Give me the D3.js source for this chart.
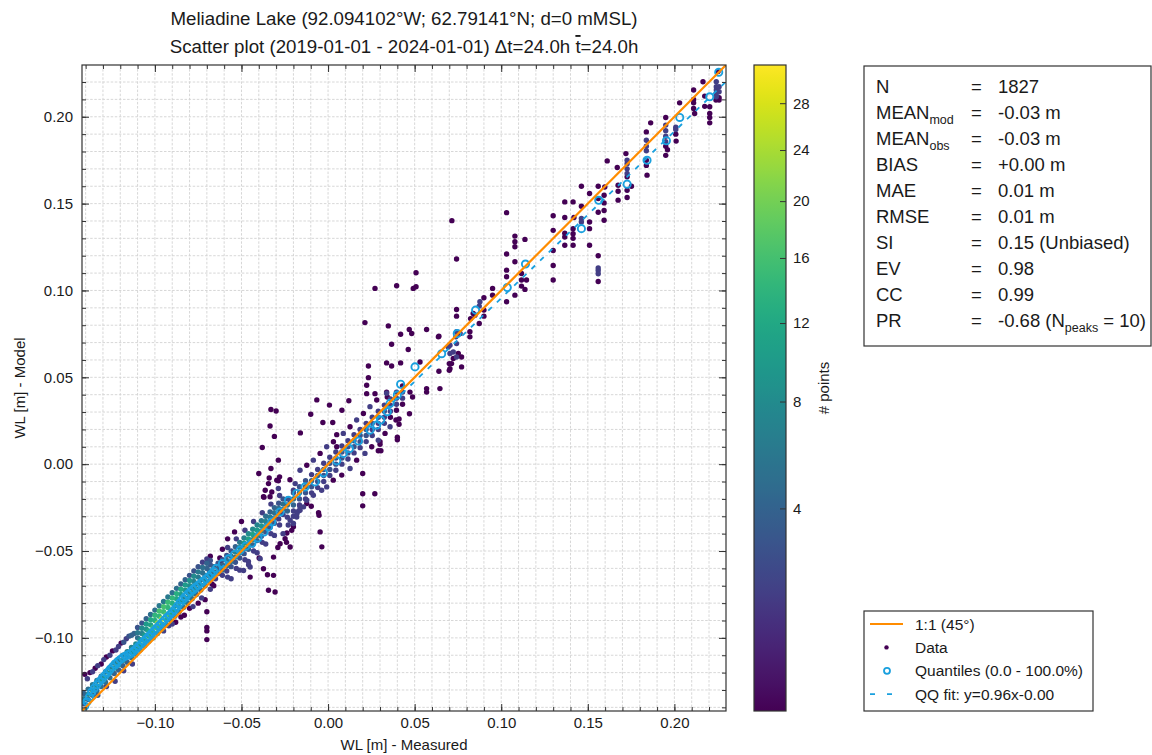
<!DOCTYPE html>
<html><head><meta charset="utf-8">
<script src="https://cdn.jsdelivr.net/npm/d3@7"></script>
<style>
body{margin:0;background:#fff;}
svg{font-family:"Liberation Sans",Arial,Helvetica,sans-serif;}
</style></head><body>
<svg id="chart" width="1152" height="755"></svg>
<script>
// ---------------- DATA ----------------
// [measured, model, count]
const lowMainBand = [
[-0.1410,-0.1380,3],[-0.1410,-0.1350,6],[-0.1410,-0.1320,4],
[-0.1385,-0.1355,4],[-0.1385,-0.1325,8],[-0.1385,-0.1295,5],
[-0.1360,-0.1330,5],[-0.1360,-0.1300,9],[-0.1360,-0.1270,6],
[-0.1335,-0.1305,5],[-0.1335,-0.1275,9],[-0.1335,-0.1245,6],
[-0.1310,-0.1280,5],[-0.1310,-0.1250,10],[-0.1310,-0.1220,6],
[-0.1285,-0.1255,5],[-0.1285,-0.1225,10],[-0.1285,-0.1195,6],
[-0.1260,-0.1230,5],[-0.1260,-0.1200,9],[-0.1260,-0.1170,6],
[-0.1235,-0.1205,4],[-0.1235,-0.1175,9],[-0.1235,-0.1145,6],
[-0.1210,-0.1185,4],[-0.1210,-0.1155,8],[-0.1210,-0.1125,6],
[-0.1185,-0.1160,4],[-0.1185,-0.1130,8],[-0.1185,-0.1100,6],
[-0.1160,-0.1140,4],[-0.1160,-0.1110,8],[-0.1160,-0.1080,7],
[-0.1135,-0.1115,5],[-0.1135,-0.1085,9],[-0.1135,-0.1055,7],
[-0.1110,-0.1095,5],[-0.1110,-0.1065,10],[-0.1110,-0.1035,8],
[-0.1085,-0.1070,6],[-0.1085,-0.1040,11],[-0.1085,-0.1010,9],
[-0.1060,-0.1045,6],[-0.1060,-0.1015,12],[-0.1060,-0.0985,10],
[-0.1035,-0.1020,7],[-0.1035,-0.0990,13],[-0.1035,-0.0960,12],
[-0.1010,-0.1000,7],[-0.1010,-0.0970,14],[-0.1010,-0.0940,16],
[-0.0985,-0.0975,7],[-0.0985,-0.0945,15],[-0.0985,-0.0915,24],
[-0.0960,-0.0950,7],[-0.0960,-0.0920,14],[-0.0960,-0.0890,26],
[-0.0935,-0.0925,6],[-0.0935,-0.0895,13],[-0.0935,-0.0865,18],
[-0.0910,-0.0900,6],[-0.0910,-0.0870,12],[-0.0910,-0.0840,12],
[-0.0885,-0.0875,6],[-0.0885,-0.0845,11],[-0.0885,-0.0815,10],
[-0.0860,-0.0850,5],[-0.0860,-0.0820,10],[-0.0860,-0.0790,8],
[-0.0835,-0.0825,5],[-0.0835,-0.0795,9],[-0.0835,-0.0765,7],
[-0.0810,-0.0800,5],[-0.0810,-0.0770,9],[-0.0810,-0.0740,7],
[-0.0785,-0.0775,5],[-0.0785,-0.0745,8],[-0.0785,-0.0715,6],
[-0.0760,-0.0750,4],[-0.0760,-0.0720,8],[-0.0760,-0.0690,6],
[-0.0735,-0.0725,4],[-0.0735,-0.0695,7],[-0.0735,-0.0665,5],
[-0.0710,-0.0700,4],[-0.0710,-0.0670,7],[-0.0710,-0.0640,5],
[-0.0685,-0.0675,3],[-0.0685,-0.0645,6],[-0.0685,-0.0615,4],
[-0.0660,-0.0650,3],[-0.0660,-0.0620,5],[-0.0660,-0.0590,4],
[-0.0635,-0.0630,2],[-0.0635,-0.0600,4],[-0.0635,-0.0570,3]
];
const upperBand = [
[-0.1405,-0.1210,1],[-0.1390,-0.1235,2],[-0.1375,-0.1200,1],[-0.1360,-0.1195,2],[-0.1345,-0.1175,1],
[-0.1330,-0.1160,2],[-0.1310,-0.1150,1],[-0.1295,-0.1125,2],[-0.1280,-0.1110,1],[-0.1260,-0.1100,2],
[-0.1245,-0.1075,1],[-0.1225,-0.1070,2],[-0.1210,-0.1050,2],[-0.1195,-0.1030,1],[-0.1180,-0.1025,3],
[-0.1165,-0.1005,2],[-0.1150,-0.0990,3],[-0.1135,-0.0985,4],[-0.1120,-0.0975,4],
[-0.1100,-0.1000,5],[-0.1100,-0.0970,6],[-0.1100,-0.0940,3],
[-0.1075,-0.0975,7],[-0.1075,-0.0945,8],[-0.1075,-0.0915,3],
[-0.1050,-0.0950,9],[-0.1050,-0.0920,10],[-0.1050,-0.0890,4],
[-0.1025,-0.0925,11],[-0.1025,-0.0895,12],[-0.1025,-0.0865,5],
[-0.1000,-0.0900,13],[-0.1000,-0.0870,14],[-0.1000,-0.0840,5],
[-0.0975,-0.0875,14],[-0.0975,-0.0845,16],[-0.0975,-0.0815,6],
[-0.0950,-0.0850,15],[-0.0950,-0.0820,16],[-0.0950,-0.0790,6],
[-0.0925,-0.0825,14],[-0.0925,-0.0795,15],[-0.0925,-0.0765,6],
[-0.0900,-0.0800,13],[-0.0900,-0.0770,14],[-0.0900,-0.0740,5],
[-0.0875,-0.0775,12],[-0.0875,-0.0745,13],[-0.0875,-0.0715,5],
[-0.0850,-0.0750,10],[-0.0850,-0.0720,12],[-0.0850,-0.0690,4],
[-0.0825,-0.0725,9],[-0.0825,-0.0695,10],[-0.0825,-0.0665,4],
[-0.0800,-0.0700,8],[-0.0800,-0.0670,9],[-0.0800,-0.0640,3],
[-0.0775,-0.0675,7],[-0.0775,-0.0645,8],[-0.0775,-0.0615,3],
[-0.0750,-0.0650,6],[-0.0750,-0.0620,6],[-0.0750,-0.0590,3],
[-0.0725,-0.0625,5],[-0.0725,-0.0595,5],[-0.0725,-0.0565,2],
[-0.0700,-0.0600,4],[-0.0700,-0.0570,4],[-0.0700,-0.0545,2],
[-0.0680,-0.0580,3],[-0.0680,-0.0555,3],[-0.0680,-0.0530,1]
];
const lowExtras = [
[-0.0800,-0.0830,1],[-0.0780,-0.0820,2],[-0.0750,-0.0800,1],[-0.0730,-0.0770,2],[-0.0710,-0.0780,1],
[-0.0680,-0.0720,2],[-0.0670,-0.0690,1],[-0.0650,-0.0660,2],[-0.0660,-0.0700,1],[-0.0850,-0.0880,1],
[-0.0880,-0.0910,1],[-0.0830,-0.0870,1],[-0.0700,-0.0850,1],[-0.0700,-0.0940,1],[-0.0700,-0.0960,1],
[-0.0700,-0.1010,1],[-0.0920,-0.0930,2],[-0.0900,-0.0920,2],[-0.0950,-0.0960,2],[-0.0620,-0.0570,1],
[-0.0625,-0.0540,1],[-0.0620,-0.0600,1],[-0.1230,-0.1250,2],[-0.1180,-0.1190,2],[-0.1130,-0.1150,2],
[-0.1330,-0.1330,3],[-0.1280,-0.1280,2]
];
const midBand = [
[-0.0610,-0.0640,2],[-0.0610,-0.0610,4],[-0.0610,-0.0580,4],[-0.0610,-0.0550,3],
[-0.0585,-0.0615,2],[-0.0585,-0.0585,4],[-0.0585,-0.0555,5],[-0.0585,-0.0525,3],
[-0.0560,-0.0590,3],[-0.0560,-0.0560,5],[-0.0560,-0.0530,6],[-0.0560,-0.0500,3],
[-0.0535,-0.0565,3],[-0.0535,-0.0535,5],[-0.0535,-0.0505,7],[-0.0535,-0.0475,4],
[-0.0510,-0.0540,3],[-0.0510,-0.0510,6],[-0.0510,-0.0480,9],[-0.0510,-0.0450,6],
[-0.0485,-0.0515,3],[-0.0485,-0.0485,7],[-0.0485,-0.0455,10],[-0.0485,-0.0425,7],
[-0.0460,-0.0490,4],[-0.0460,-0.0460,7],[-0.0460,-0.0430,11],[-0.0460,-0.0400,8],
[-0.0435,-0.0465,4],[-0.0435,-0.0435,7],[-0.0435,-0.0405,11],[-0.0435,-0.0375,8],
[-0.0410,-0.0440,4],[-0.0410,-0.0410,7],[-0.0410,-0.0380,10],[-0.0410,-0.0350,7],
[-0.0385,-0.0415,3],[-0.0385,-0.0385,6],[-0.0385,-0.0355,9],[-0.0385,-0.0325,6],
[-0.0360,-0.0390,3],[-0.0360,-0.0360,5],[-0.0360,-0.0330,7],[-0.0360,-0.0300,5],
[-0.0335,-0.0365,3],[-0.0335,-0.0335,5],[-0.0335,-0.0305,6],[-0.0335,-0.0275,4],
[-0.0310,-0.0340,3],[-0.0310,-0.0310,4],[-0.0310,-0.0280,5],[-0.0310,-0.0250,4],
[-0.0285,-0.0315,2],[-0.0285,-0.0285,4],[-0.0285,-0.0255,5],[-0.0285,-0.0225,3],
[-0.0260,-0.0290,2],[-0.0260,-0.0260,4],[-0.0260,-0.0230,5],[-0.0260,-0.0200,3],
[-0.0580,-0.0650,2],[-0.0530,-0.0600,2],[-0.0480,-0.0550,2],[-0.0430,-0.0500,2],[-0.0380,-0.0450,2],
[-0.0330,-0.0400,2],[-0.0280,-0.0350,2],
[-0.0580,-0.0480,2],[-0.0530,-0.0430,2],[-0.0480,-0.0380,2],[-0.0430,-0.0330,2],[-0.0380,-0.0280,2],
[-0.0330,-0.0230,2],[-0.0280,-0.0180,2],
[-0.0560,-0.0660,2],[-0.0510,-0.0610,2],[-0.0460,-0.0560,2],[-0.0410,-0.0510,2],[-0.0360,-0.0460,2],
[-0.0310,-0.0410,2],[-0.0260,-0.0400,2],[-0.0230,-0.0350,2],[-0.0200,-0.0300,2],[-0.0170,-0.0270,2],
[-0.0240,-0.0450,1],[-0.0290,-0.0480,1]
];
const midScatter = [
[-0.0277,-0.0458,1],[-0.0248,-0.0429,1],[-0.0210,-0.0381,1],[-0.0200,-0.0342,2],[-0.0181,-0.0304,2],
[-0.0162,-0.0265,2],[-0.0142,-0.0246,2],[-0.0123,-0.0227,1],[-0.0219,-0.0477,1],[-0.0315,-0.0535,1],
[-0.0392,-0.0544,2],[-0.0450,-0.0592,2],[-0.0488,-0.0612,2],[-0.0315,-0.0640,1],[-0.0373,-0.0602,1],
[-0.0450,-0.0650,1],[-0.0373,-0.0188,1],[-0.0363,-0.0150,1],[-0.0344,-0.0112,1],[-0.0296,-0.0092,1],
[-0.0325,-0.0160,1],[-0.0287,-0.0140,2],[-0.0200,-0.0150,2],[-0.0190,-0.0112,2],[-0.0219,-0.0208,2],
[-0.0335,-0.0188,1],[-0.0398,-0.0540,1],[-0.0350,-0.0637,1],[-0.0344,-0.0726,1],[-0.0306,-0.0736,1],
[-0.0459,-0.0579,2],[-0.0046,-0.0390,1],[-0.0036,-0.0476,1],[-0.0052,-0.0294,1],[-0.0580,-0.0430,1],
[-0.0540,-0.0390,1],[-0.0610,-0.0490,1],[-0.0500,-0.0330,1],[-0.0097,-0.0242,1],[-0.0055,-0.0280,1]
];
const diagBand = [
[-0.0235,-0.0305,2],[-0.0235,-0.0270,4],[-0.0235,-0.0235,5],[-0.0235,-0.0200,3],
[-0.0200,-0.0270,2],[-0.0200,-0.0235,4],[-0.0200,-0.0200,5],[-0.0200,-0.0165,3],
[-0.0165,-0.0235,2],[-0.0165,-0.0200,3],[-0.0165,-0.0165,5],[-0.0165,-0.0130,3],
[-0.0130,-0.0200,2],[-0.0130,-0.0165,3],[-0.0130,-0.0130,4],[-0.0130,-0.0095,3],
[-0.0095,-0.0165,2],[-0.0095,-0.0130,3],[-0.0095,-0.0095,4],[-0.0095,-0.0060,2],
[-0.0060,-0.0135,2],[-0.0060,-0.0100,3],[-0.0060,-0.0065,4],[-0.0060,-0.0030,2],
[-0.0025,-0.0100,2],[-0.0025,-0.0065,3],[-0.0025,-0.0030,3],[-0.0025,0.0005,2],
[0.0010,-0.0065,2],[0.0010,-0.0030,3],[0.0010,0.0005,3],[0.0010,0.0040,2],
[0.0045,-0.0035,2],[0.0045,0.0000,3],[0.0045,0.0035,3],[0.0045,0.0070,2],
[0.0080,0.0000,2],[0.0080,0.0035,3],[0.0080,0.0070,3],[0.0080,0.0105,2],
[0.0115,0.0030,2],[0.0115,0.0065,3],[0.0115,0.0100,3],[0.0115,0.0135,2],
[0.0150,0.0065,2],[0.0150,0.0100,3],[0.0150,0.0135,3],[0.0150,0.0170,2],
[0.0185,0.0095,2],[0.0185,0.0130,3],[0.0185,0.0165,3],[0.0185,0.0200,2],
[0.0220,0.0130,2],[0.0220,0.0165,3],[0.0220,0.0200,3],[0.0220,0.0235,2],
[0.0255,0.0165,2],[0.0255,0.0200,2],[0.0255,0.0235,3],[0.0255,0.0270,2],
[0.0290,0.0200,2],[0.0290,0.0235,2],[0.0290,0.0270,3],[0.0290,0.0305,2],
[0.0325,0.0235,2],[0.0325,0.0270,2],[0.0325,0.0305,3],[0.0325,0.0340,2],
[0.0360,0.0270,1],[0.0360,0.0305,2],[0.0360,0.0340,2],[0.0360,0.0375,2],
[0.0395,0.0310,1],[0.0395,0.0345,2],[0.0395,0.0380,2],[0.0395,0.0415,2],
[0.0430,0.0345,1],[0.0430,0.0380,2],[0.0430,0.0415,2],[0.0430,0.0450,1]
];
const diagEdges = [
[-0.0219,-0.0323,2],[-0.0200,-0.0360,1],[-0.0238,-0.0396,1],[-0.0180,-0.0285,2],[-0.0162,-0.0246,2],
[-0.0123,-0.0208,2],[-0.0085,-0.0179,2],[-0.0037,-0.0150,2],[-0.0008,-0.0131,2],[0.0030,-0.0092,1],
[0.0079,-0.0063,1],[0.0127,-0.0025,2],[0.0165,0.0023,1],[0.0213,0.0062,2],[0.0252,0.0100,1],
[0.0290,0.0138,2],[0.0329,0.0177,1],[0.0358,0.0215,2],[0.0392,0.0254,1],
[-0.0162,-0.0035,2],[-0.0123,-0.0006,1],[-0.0085,0.0023,2],[-0.0046,0.0062,1],[-0.0008,0.0100,2],
[0.0031,0.0129,1],[0.0088,0.0177,2],[0.0127,0.0215,1],[0.0165,0.0254,2],[0.0204,0.0292,1],
[0.0242,0.0331,2],[0.0281,0.0369,1],[0.0338,0.0408,2]
];
const midOutliers = [
[-0.0330,0.0315,1],[-0.0300,0.0306,1],[-0.0335,0.0220,1],[-0.0310,0.0160,1],[-0.0380,0.0096,1],
[-0.0160,0.0180,1],[-0.0287,0.0023,1],[-0.0330,-0.0025,1],[-0.0400,-0.0054,1],[-0.0340,-0.0080,1],
[-0.0280,-0.0073,1],[-0.0287,-0.0096,1],[-0.0220,-0.0090,1],[-0.0370,-0.0190,1],
[-0.0065,0.0370,1],[0.0008,0.0340,1],[-0.0100,0.0287,1],[-0.0030,0.0240,1],[0.0027,0.0240,1],
[0.0080,0.0310,1],[0.0120,0.0365,1],[0.0050,0.0170,1],[0.0050,0.0100,1],[0.0200,-0.0054,1],
[0.0200,-0.0170,1],[0.0200,-0.0240,1],[0.0270,-0.0170,1],
[0.0300,0.0130,1],[0.0300,0.0115,1],[0.0290,0.0077,1],[0.0305,0.0077,1],[0.0400,0.0155,1],
[0.0400,0.0140,1],[0.0410,0.0230,1],[0.0410,0.0260,1],[0.0470,0.0290,1]
];
const upperMid = [
[0.0715,0.1402,1],[0.0742,0.1181,1],[0.1031,0.1448,1],
[0.0950,0.1012,1],[0.0950,0.0973,1],[0.0900,0.0958,1],[0.0877,0.0935,2],[0.0900,0.0852,1],
[0.0873,0.0810,1],[0.0848,0.0858,1],[0.0823,0.0838,1],[0.0742,0.0890,1],[0.0742,0.0852,1],
[0.0819,0.0762,1],[0.0819,0.0733,1],[0.0762,0.0752,1],[0.0704,0.0685,2],[0.0640,0.0737,1],
[0.0694,0.0675,2],[0.0704,0.0637,2],[0.0713,0.0579,1],[0.0704,0.0550,1],[0.0771,0.0617,1],
[0.0771,0.0560,1],[0.0742,0.0617,2],[0.0723,0.0646,2],[0.0640,0.0535,1],[0.0646,0.0435,1],
[0.0569,0.0435,1],[0.0569,0.0415,1],[0.0473,0.0415,1],[0.0488,0.0387,1],[0.0338,0.0415,1],
[0.0342,0.0387,1],[0.0223,0.0406,1],[0.0271,0.0406,1],[0.0213,0.0815,1],[0.0233,0.0565,1],
[0.0233,0.0498,1],[0.0223,0.0454,1],[0.0271,0.1012,1],[0.0396,0.1027,1],[0.0492,0.1012,1],
[0.0508,0.1021,1],[0.0508,0.1102,1],[0.0348,0.0796,1],[0.0419,0.0748,1],[0.0469,0.0775,1],
[0.0483,0.0752,1],[0.0569,0.0775,1],[0.0367,0.0690,1],[0.0463,0.0660,1],[0.0338,0.0583,1],
[0.0367,0.0565,1],[0.0419,0.0583,1],[0.0531,0.0588,1],
[0.0873,0.0910,2],[0.0900,0.0887,1],[0.0838,0.0867,1],[0.0742,0.0762,2],[0.0738,0.0733,2],
[0.0742,0.0694,2],[0.0723,0.0608,1],[0.0700,0.0579,1],[0.0700,0.0540,1],[0.0752,0.0637,1],
[0.0637,0.0733,1],
[0.1031,0.1210,1],[0.1031,0.1117,1],[0.1031,0.1079,1],[0.1079,0.1165,1],[0.1117,0.1098,1],
[0.1117,0.1060,1],[0.1117,0.1025,1],[0.1137,0.1006,1],[0.1146,0.1060,1],[0.1079,0.0973,1],
[0.1031,0.0935,1],[0.1079,0.1313,1],[0.1079,0.1281,1],[0.1079,0.1252,1],[0.1137,0.1294,1]
];
const upperTop = [
[0.1300,0.1430,1],[0.1300,0.1346,1],[0.1300,0.1230,1],[0.1300,0.1144,1],[0.1300,0.1060,1],
[0.1367,0.1510,1],[0.1367,0.1420,1],[0.1367,0.1330,1],[0.1367,0.1308,1],[0.1367,0.1260,1],
[0.1415,0.1510,1],[0.1415,0.1355,1],[0.1415,0.1327,1],[0.1415,0.1300,1],[0.1415,0.1260,1],[0.1420,0.1420,1],
[0.1463,0.1485,1],[0.1463,0.1414,2],[0.1463,0.1394,2],[0.1463,0.1600,1],
[0.1510,0.1558,1],[0.1510,0.1394,1],[0.1510,0.1356,1],[0.1510,0.1260,1],
[0.1560,0.1600,1],[0.1560,0.1450,1],[0.1560,0.1529,1],[0.1560,0.1200,1],[0.1560,0.1130,2],
[0.1560,0.1115,2],[0.1560,0.1096,2],[0.1560,0.1052,1],
[0.1598,0.1596,1],[0.1594,0.1548,1],[0.1594,0.1504,1],[0.1594,0.1460,1],[0.1594,0.1404,1],
[0.1612,0.1746,1],[0.1670,0.1708,1],[0.1675,0.1606,1],[0.1675,0.1571,1],[0.1675,0.1520,1],
[0.1720,0.1788,1],[0.1727,0.1750,2],[0.1727,0.1730,2],[0.1727,0.1700,2],[0.1727,0.1673,2],
[0.1727,0.1654,1],[0.1727,0.1577,1],[0.1727,0.1535,1],[0.1752,0.1600,1],
[0.1838,0.1913,1],[0.1838,0.1865,2],[0.1838,0.1830,2],[0.1838,0.1804,2],[0.1838,0.1750,1],
[0.1838,0.1720,1],[0.1842,0.1664,1],[0.1863,0.1965,1],
[0.1950,0.1996,1],[0.1950,0.1952,2],[0.1950,0.1920,2],[0.1950,0.1888,2],[0.1950,0.1856,2],
[0.1950,0.1830,1],[0.1960,0.1810,1],[0.1950,0.1778,1],
[0.2008,0.1940,2],[0.2008,0.1927,2],[0.2008,0.1900,1],[0.2010,0.1860,1],[0.2030,0.2080,1],
[0.2111,0.2154,1],[0.2111,0.2100,1],[0.2111,0.2080,1],[0.2111,0.2048,1],[0.2117,0.2019,1],
[0.2165,0.2202,1],[0.2175,0.2119,1],[0.2175,0.2060,1],
[0.2204,0.2058,1],[0.2204,0.2019,1],[0.2204,0.1996,1],[0.2204,0.1965,1],
[0.2242,0.2202,2],[0.2242,0.2173,2],[0.2242,0.2154,2],[0.2242,0.2135,2],[0.2242,0.2115,2],
[0.2258,0.2173,2],[0.2258,0.2144,2],[0.2258,0.2110,1],[0.2258,0.2096,1],[0.2240,0.2096,1],[0.2252,0.2260,1]
];
// quantile pairs [measured, model]
const quantiles = [
[-0.1405,-0.1392],[-0.1392,-0.1368],[-0.1378,-0.1340],[-0.1365,-0.1312],[-0.1350,-0.1290],[-0.1335,-0.1270],
[-0.1320,-0.1252],[-0.1305,-0.1235],[-0.1290,-0.1218],[-0.1275,-0.1200],[-0.1260,-0.1183],[-0.1245,-0.1167],
[-0.1230,-0.1150],[-0.1215,-0.1137],[-0.1200,-0.1125],[-0.1185,-0.1113],[-0.1170,-0.1105],[-0.1155,-0.1097],
[-0.1140,-0.1090],[-0.1125,-0.1078],[-0.1110,-0.1065],[-0.1095,-0.1050],[-0.1080,-0.1036],[-0.1065,-0.1021],
[-0.1050,-0.1006],[-0.1035,-0.0991],[-0.1020,-0.0976],[-0.1005,-0.0960],[-0.0990,-0.0945],[-0.0975,-0.0929],
[-0.0960,-0.0913],[-0.0945,-0.0897],[-0.0930,-0.0882],[-0.0915,-0.0868],[-0.0900,-0.0854],[-0.0885,-0.0837],
[-0.0870,-0.0818],[-0.0855,-0.0798],[-0.0840,-0.0779],[-0.0825,-0.0763],[-0.0810,-0.0748],[-0.0795,-0.0734],
[-0.0780,-0.0721],[-0.0765,-0.0709],[-0.0750,-0.0697],[-0.0735,-0.0685],[-0.0720,-0.0673],[-0.0705,-0.0661],
[-0.0690,-0.0648],[-0.0675,-0.0634],[-0.0660,-0.0618],[-0.0645,-0.0600],[-0.0610,-0.0572],[-0.0574,-0.0545],
[-0.0540,-0.0520],[-0.0508,-0.0495],[-0.0475,-0.0472],[-0.0440,-0.0455],[-0.0405,-0.0425],[-0.0370,-0.0390],
[-0.0344,-0.0360],[-0.0325,-0.0333],[-0.0277,-0.0275],[-0.0229,-0.0208],[-0.0181,-0.0169],[-0.0133,-0.0131],
[-0.0075,-0.0102],[-0.0027,-0.0050],[0.0050,0.0019],[0.0088,0.0062],[0.0123,0.0090],[0.0175,0.0133],
[0.0242,0.0196],[0.0281,0.0225],[0.0304,0.0254],[0.0342,0.0302],[0.0358,0.0350],[0.0400,0.0398],
[0.0419,0.0460],[0.0502,0.0560],[0.0656,0.0636],[0.0746,0.0752],[0.0852,0.0887],[0.1035,0.1017],
[0.1140,0.1152],[0.1463,0.1356],[0.1563,0.1519],[0.1727,0.1612],[0.1842,0.1750],[0.1954,0.1862],
[0.2031,0.1996],[0.2204,0.2115],[0.2256,0.2256]
];
const qqSlope = 0.96, qqIntercept = -0.0004;
const axisDomain = [-0.1421, 0.2298];
const majorTicks = [-0.10,-0.05,0.00,0.05,0.10,0.15,0.20];
const cbarTicks = [4,8,12,16,20,24,28];
const countRange = [1, 31.5];
const titleLine1 = "Meliadine Lake (92.094102°W; 62.79141°N; d=0 mMSL)";
const titleLine2a = "Scatter plot (2019-01-01 - 2024-01-01) Δt=24.0h ";
const titleLine2b = "t";
const titleLine2c = "=24.0h";
const xLabel = "WL [m] - Measured";
const yLabel = "WL [m] - Model";
const cbarLabel = "# points";
const statNames = ["N","MEAN","MEAN","BIAS","MAE","RMSE","SI","EV","CC","PR"];
const statSubs  = ["","mod","obs","","","","","","",""];
const statValues = ["1827","-0.03 m","-0.03 m","+0.00 m","0.01 m","0.01 m","0.15 (Unbiased)","0.98","0.99","-0.68 (N_{peaks} = 10)"];
const legendLabels = ["1:1 (45°)","Data","Quantiles (0.0 - 100.0%)","QQ fit: y=0.96x-0.00"];

// ---------------- LAYOUT ----------------
const svg = d3.select("#chart");
const P = {left:82, right:726, top:65, bottom:711};
const ORANGE = "#ff8c00", QBLUE = "#1aa0de", INK = "#1a1a1a", FRAME = "#333";
const x = d3.scaleLinear().domain(axisDomain).range([P.left, P.right]);
const y = d3.scaleLinear().domain(axisDomain).range([P.bottom, P.top]);
const norm = d3.scaleSqrt().domain([0, countRange[1]-countRange[0]]).range([0,1]).clamp(true);
const colorOf = c => d3.interpolateViridis(norm(c - countRange[0]));
const minorTicks = d3.range(-14, 23).map(i => i/100);

svg.append("rect").attr("width",1152).attr("height",755).attr("fill","#fff");
const defs = svg.append("defs");
defs.append("clipPath").attr("id","plotclip").append("rect")
  .attr("x",P.left).attr("y",P.top).attr("width",P.right-P.left).attr("height",P.bottom-P.top);

// grid
const grid = svg.append("g").attr("stroke","#d2d2d2").attr("stroke-width",0.9).attr("stroke-dasharray","2.5,1.6");
grid.selectAll("line.v").data(minorTicks).join("line").attr("class","v")
  .attr("x1",d=>x(d)).attr("x2",d=>x(d)).attr("y1",P.top).attr("y2",P.bottom);
grid.selectAll("line.h").data(minorTicks).join("line").attr("class","h")
  .attr("y1",d=>y(d)).attr("y2",d=>y(d)).attr("x1",P.left).attr("x2",P.right);

// scatter
const allPts = [].concat(lowMainBand, upperBand, lowExtras, midBand, midScatter, diagBand, diagEdges, midOutliers, upperMid, upperTop)
  .slice().sort((a,b)=>a[2]-b[2]);
const plot = svg.append("g").attr("clip-path","url(#plotclip)");
plot.append("g").selectAll("circle").data(allPts).join("circle")
  .attr("cx",d=>x(d[0])).attr("cy",d=>y(d[1])).attr("r",2.7).attr("fill",d=>colorOf(d[2]));

// QQ fit line
const qqLine = d3.line().x(d=>x(d)).y(d=>y(qqSlope*d+qqIntercept));
plot.append("path").datum(axisDomain).attr("d",qqLine).attr("fill","none")
  .attr("stroke",QBLUE).attr("stroke-width",1.8).attr("stroke-dasharray","5,7");
// quantiles
plot.append("g").selectAll("circle").data(quantiles).join("circle")
  .attr("cx",d=>x(d[0])).attr("cy",d=>y(d[1])).attr("r",3.6)
  .attr("fill","none").attr("stroke",QBLUE).attr("stroke-width",1.9);
// 1:1 line
plot.append("path").datum(axisDomain).attr("d",d3.line().x(d=>x(d)).y(d=>y(d)))
  .attr("stroke",ORANGE).attr("stroke-width",2.2).attr("fill","none");

// axes (inward ticks on all sides)
function styleAxis(g){ g.select(".domain").remove(); g.selectAll("line").attr("stroke",FRAME);
  g.selectAll("text").attr("fill",INK).style("font-size","15px").style("font-family","'Liberation Sans',Arial,sans-serif"); }
const fmt = d3.format(".2f");
svg.append("g").attr("transform",`translate(0,${P.bottom})`).call(d3.axisBottom(x).tickValues(minorTicks).tickFormat("").tickSize(-4)).call(styleAxis);
svg.append("g").attr("transform",`translate(0,${P.bottom})`).call(d3.axisBottom(x).tickValues(majorTicks).tickFormat(fmt).tickSize(-7).tickPadding(6)).call(styleAxis);
svg.append("g").attr("transform",`translate(0,${P.top})`).call(d3.axisTop(x).tickValues(minorTicks).tickFormat("").tickSize(-4)).call(styleAxis);
svg.append("g").attr("transform",`translate(0,${P.top})`).call(d3.axisTop(x).tickValues(majorTicks).tickFormat("").tickSize(-7)).call(styleAxis);
svg.append("g").attr("transform",`translate(${P.left},0)`).call(d3.axisLeft(y).tickValues(minorTicks).tickFormat("").tickSize(-4)).call(styleAxis);
svg.append("g").attr("transform",`translate(${P.left},0)`).call(d3.axisLeft(y).tickValues(majorTicks).tickFormat(fmt).tickSize(-7).tickPadding(9)).call(styleAxis);
svg.append("g").attr("transform",`translate(${P.right},0)`).call(d3.axisRight(y).tickValues(minorTicks).tickFormat("").tickSize(-4)).call(styleAxis);
svg.append("g").attr("transform",`translate(${P.right},0)`).call(d3.axisRight(y).tickValues(majorTicks).tickFormat("").tickSize(-7)).call(styleAxis);
svg.append("rect").attr("x",P.left).attr("y",P.top).attr("width",P.right-P.left).attr("height",P.bottom-P.top)
  .attr("fill","none").attr("stroke",FRAME).attr("stroke-width",1.2);

// titles and labels
svg.append("text").attr("x",(P.left+P.right)/2).attr("y",25).attr("text-anchor","middle")
  .attr("fill",INK).style("font-size","18.7px").text(titleLine1);
const t2 = svg.append("text").attr("x",(P.left+P.right)/2).attr("y",53).attr("text-anchor","middle")
  .attr("fill",INK).style("font-size","18.7px");
t2.append("tspan").text(titleLine2a);
t2.append("tspan").style("text-decoration","overline").text(titleLine2b);
t2.append("tspan").text(titleLine2c);
svg.append("text").attr("x",(P.left+P.right)/2).attr("y",750).attr("text-anchor","middle")
  .attr("fill",INK).style("font-size","15px").text(xLabel);
svg.append("text").attr("transform",`translate(25,${(P.top+P.bottom)/2}) rotate(-90)`).attr("text-anchor","middle")
  .attr("fill",INK).style("font-size","15px").text(yLabel);

// colorbar
const CB = {x:754, w:32, top:P.top, bottom:P.bottom};
const grad = defs.append("linearGradient").attr("id","viridisGrad").attr("x1",0).attr("y1",1).attr("x2",0).attr("y2",0);
grad.selectAll("stop").data(d3.range(0,1.0001,0.02)).join("stop")
  .attr("offset",d=>d).attr("stop-color",d=>d3.interpolateViridis(d));
svg.append("rect").attr("x",CB.x).attr("y",CB.top).attr("width",CB.w).attr("height",CB.bottom-CB.top)
  .attr("fill","url(#viridisGrad)").attr("stroke",FRAME).attr("stroke-width",1.2);
const cbY = d3.scaleSqrt().domain([0, countRange[1]-countRange[0]]).range([CB.bottom, CB.top]);
svg.append("g").attr("transform",`translate(${CB.x+CB.w},0)`)
  .call(d3.axisRight(cbY).tickValues(cbarTicks.map(v=>v-countRange[0])).tickFormat(d=>d3.format("d")(d+countRange[0])).tickSize(-6).tickPadding(7))
  .call(styleAxis);
svg.append("text").attr("transform",`translate(829,${(CB.top+CB.bottom)/2}) rotate(-90)`).attr("text-anchor","middle")
  .attr("fill",INK).style("font-size","15px").text(cbarLabel);

// stats box
const SB = {x:864, y:66, w:287, h:280};
svg.append("rect").attr("x",SB.x).attr("y",SB.y).attr("width",SB.w).attr("height",SB.h)
  .attr("fill","#fff").attr("stroke",FRAME).attr("stroke-width",1.2);
const rowY = i => 93 + i*26;
function richText(sel, str){
  const parts = str.split(/_\{|\}/);
  parts.forEach((p,i)=>{
    if(!p) return;
    const sub = i%2===1;
    sel.append("tspan").text(p).style("font-size", sub ? "12.5px" : "18.5px")
      .attr("dy", sub ? 5 : (i>0 ? -5 : 0));
  });
}
statNames.forEach((n,i)=>{
  const t = svg.append("text").attr("x",876).attr("y",rowY(i)).attr("fill",INK).style("font-size","18.5px");
  t.append("tspan").text(n);
  if(statSubs[i]) t.append("tspan").text(statSubs[i]).style("font-size","12.5px").attr("dy",5);
  svg.append("text").attr("x",971).attr("y",rowY(i)).attr("fill",INK).style("font-size","18.5px").text("=");
  const v = svg.append("text").attr("x",998).attr("y",rowY(i)).attr("fill",INK).style("font-size","18.5px");
  richText(v, statValues[i]);
});

// legend
const LB = {x:864, y:611, w:229, h:100};
svg.append("rect").attr("x",LB.x).attr("y",LB.y).attr("width",LB.w).attr("height",LB.h)
  .attr("fill","#fff").attr("stroke",FRAME).attr("stroke-width",1.2);
const legY = i => 624 + i*23.4;
svg.append("line").attr("x1",870).attr("x2",903).attr("y1",legY(0)).attr("y2",legY(0)).attr("stroke",ORANGE).attr("stroke-width",2.2);
svg.append("circle").attr("cx",886.5).attr("cy",legY(1)).attr("r",2.2).attr("fill",colorOf(1));
svg.append("circle").attr("cx",887).attr("cy",legY(2)).attr("r",3).attr("fill","none").attr("stroke",QBLUE).attr("stroke-width",1.8);
svg.append("line").attr("x1",870).attr("x2",903).attr("y1",legY(3)).attr("y2",legY(3)).attr("stroke",QBLUE).attr("stroke-width",1.8).attr("stroke-dasharray","5,12");
legendLabels.forEach((l,i)=>{
  svg.append("text").attr("x",915).attr("y",legY(i)+5.5).attr("fill",INK).style("font-size","15.5px").text(l);
});
</script>
</body></html>
